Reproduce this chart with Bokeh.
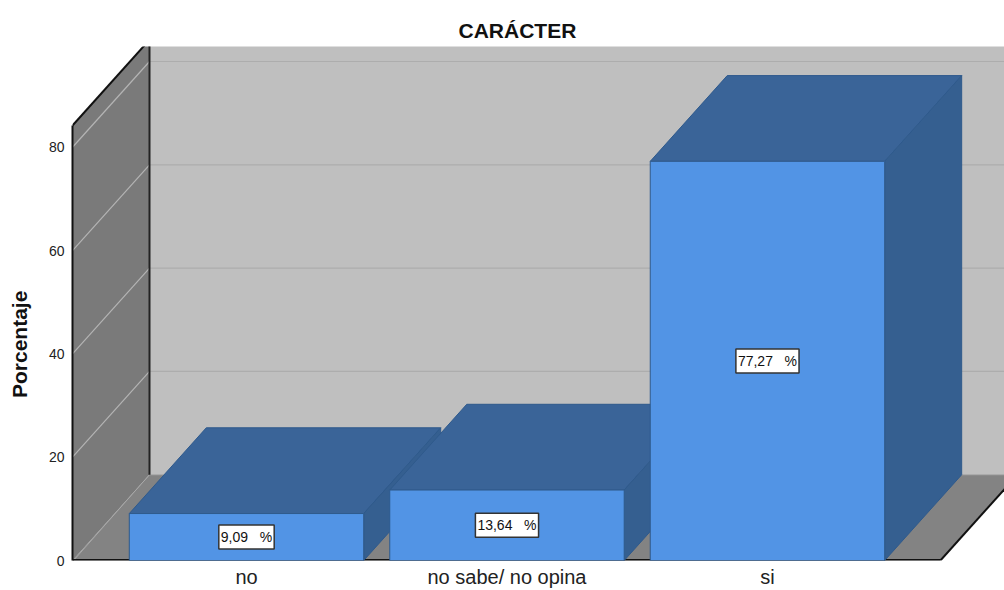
from bokeh.plotting import figure
from bokeh.embed import file_html
from bokeh.resources import INLINE
from bokeh.models import FixedTicker, Range1d
from bokeh.core.properties import value

title_text = "CARÁCTER"
y_title = "Porcentaje"
categories = ["no", "no sabe/ no opina", "si"]
percent = [9.09, 13.64, 77.27]
labels = ["9,09\u00a0\u00a0\u00a0%", "13,64\u00a0\u00a0\u00a0%", "77,27\u00a0\u00a0\u00a0%"]
y_ticks = [0, 20, 40, 60, 80]

FONT = "Liberation Sans"
# 3-D look: depth of the box expressed in data units
DX, DY = 0.2956, 16.6
BW = 0.9
X0, X1 = -0.668, 2.664
TOP = 84.2
FAR = 140

FLOOR = "#838383"; WALL = "#7a7a7a"; BACK = "#bfbfbf"
FRONT = "#5294e5"; ROOF = "#3a6498"; SIDE = "#355f90"; EDGE = "#2f5a8c"

p = figure(width=1004, height=590, frame_width=932, frame_height=514,
           x_range=Range1d(X0, 2.91), y_range=Range1d(0, 99.5),
           output_backend="svg", toolbar_location=None,
           min_border_left=72, min_border_right=0, min_border_top=46, min_border_bottom=30)
p.outline_line_color = None
p.grid.visible = False

# walls and floor
p.patch([X0 + DX, FAR, FAR, X0 + DX], [DY, DY, FAR, FAR], fill_color=BACK, line_color=None)
p.patch([X0, X0 + DX, X0 + DX, X0], [0, DY, TOP + DY, TOP], fill_color=WALL, line_color=None)
p.patch([X0, X0 + DX, X1 + DX, X1], [0, DY, DY, 0], fill_color=FLOOR, line_color=None)

# gridlines on both walls
grid_vals = y_ticks[1:]
p.multi_line([[X0 + DX, FAR] for _ in grid_vals], [[v + DY, v + DY] for v in grid_vals],
             line_color="#adadad", line_width=1.2)
p.multi_line([[X0, X0 + DX] for _ in grid_vals], [[v, v + DY] for v in grid_vals],
             line_color="#b4b4b4", line_width=1.2)
p.line([X0 + 0.004, X0 + DX], [0, DY], line_color="#a8a8a8", line_width=1)
p.line([X0 + DX, FAR], [DY, DY], line_color="#a6a6a6", line_width=1)

# frame lines
p.line([X0 + DX, X0 + DX], [DY, TOP + DY], line_color="#222222", line_width=2)
p.line([X0, X0 + DX], [TOP, TOP + DY], line_color="#111111", line_width=2)
p.line([X0, X1], [0, 0], line_color="#111111", line_width=3)
p.line([X1, X1 + DX], [0, DY], line_color="#111111", line_width=2)

# bars, left to right
for i, v in enumerate(percent):
    l, r = i - BW / 2, i + BW / 2
    p.patch([l, l + DX, r + DX, r], [v, v + DY, v + DY, v], fill_color=ROOF, line_color=EDGE, line_width=1)
    p.patch([r, r + DX, r + DX, r], [0, DY, v + DY, v], fill_color=SIDE, line_color=EDGE, line_width=1)
    p.patch([l, r, r, l], [0, 0, v, v], fill_color=FRONT, line_color=EDGE, line_width=1)

# value labels
p.text(list(range(len(percent))), [v / 2 for v in percent], text=labels,
       text_font=value(FONT), text_font_size="14px", text_color="#111111",
       text_align="center", text_baseline="middle",
       background_fill_color="white", border_line_color="#333333", border_line_width=1.5,
       padding=(2, 4))

# axes
ya = p.yaxis[0]
ya.ticker = FixedTicker(ticks=y_ticks)
ya.bounds = (0, TOP)
ya.axis_line_color = "#111111"
ya.axis_line_width = 2
ya.major_tick_line_color = None
ya.minor_tick_line_color = None
ya.major_tick_out = 0
ya.minor_tick_out = 0
ya.major_label_text_font = FONT
ya.major_label_text_font_size = "14px"
ya.major_label_text_color = "#222222"
ya.major_label_standoff = 8
# trailing no-break spaces push the title below the frame's middle, as in the reference
ya.axis_label = y_title + "\u00a0" * 14
ya.axis_label_text_font = FONT
ya.axis_label_text_font_style = "bold"
ya.axis_label_text_font_size = "21px"
ya.axis_label_text_color = "#111111"
ya.axis_label_standoff = 15

xa = p.xaxis[0]
xa.ticker = FixedTicker(ticks=list(range(len(categories))))
xa.major_label_overrides = {i: c for i, c in enumerate(categories)}
xa.bounds = (X0, X1)
xa.axis_line_color = None
xa.major_tick_line_color = None
xa.minor_tick_line_color = None
xa.major_tick_out = 0
xa.minor_tick_out = 0
xa.major_label_text_font = FONT
xa.major_label_text_font_size = "20px"
xa.major_label_text_color = "#222222"
xa.major_label_standoff = 5

p.title.text = title_text
p.title.align = "left"
p.title.offset = 386
p.title.text_font = FONT
p.title.text_font_style = "bold"
p.title.text_font_size = "21px"
p.title.text_color = "#111111"
p.title.standoff = 10

open("out.html", "w").write(file_html(p, INLINE))
